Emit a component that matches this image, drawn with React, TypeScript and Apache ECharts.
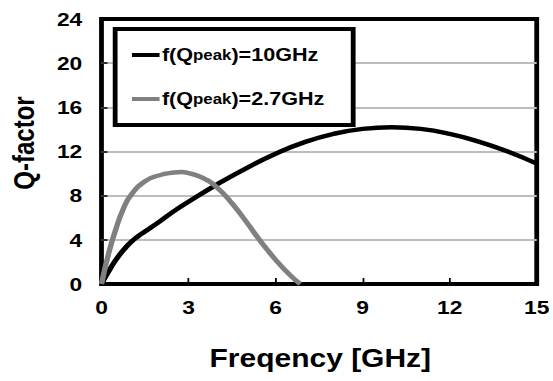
import React, { useEffect, useRef } from "react";
import * as echarts from "echarts";

const xTicks = [0, 3, 6, 9, 12, 15];
const yTicks = [0, 4, 8, 12, 16, 20, 24];

const seriesNames = ["f(Qpeak)=10GHz", "f(Qpeak)=2.7GHz"];

const freqBlack = [0, 0.25, 0.5, 0.75, 1, 1.25, 1.5, 2, 2.5, 3, 4, 5, 6, 7, 8, 9, 10, 11, 12, 13, 14, 15];
const qBlack = [0, 1.15, 2.2, 3.05, 3.75, 4.3, 4.75, 5.65, 6.6, 7.45, 9.05, 10.5, 11.8, 12.85, 13.6, 14.05, 14.2, 14.05, 13.6, 12.9, 12.0, 10.9];

const freqGray = [0, 0.25, 0.5, 0.75, 1, 1.5, 2, 2.5, 2.75, 3, 3.5, 4, 4.5, 5, 5.5, 6, 6.5, 6.85];
const qGray = [0, 2.8, 5.0, 6.8, 8.0, 9.3, 9.85, 10.1, 10.15, 10.05, 9.6, 8.7, 7.3, 5.6, 3.8, 2.2, 0.8, 0];

const FONT = "'Liberation Sans', Arial, sans-serif";
const W = 461;
const H = 381;
const SX = 553 / W;

export default function App() {
  const ref = useRef<HTMLDivElement>(null);
  useEffect(() => {
    if (!ref.current) return;
    const chart = echarts.init(ref.current, undefined, { renderer: "svg" });
    const pairs = (xs: number[], ys: number[]) => xs.map((x, i) => [x, ys[i]]);
    chart.setOption({
      animation: false,
      grid: {
        left: 84.6,
        right: 13,
        top: 19,
        bottom: 97,
        show: true,
        borderColor: "#000",
        borderWidth: 4,
        backgroundColor: "transparent",
      },
      legend: {
        left: 96,
        top: 29,
        orient: "vertical",
        data: seriesNames,
        icon: "rect",
        itemWidth: 23,
        itemHeight: 4,
        itemGap: 26,
        padding: [17, 24, 17, 14],
        borderColor: "#000",
        borderWidth: 4,
        borderRadius: 0,
        backgroundColor: "#fff",
        formatter: (name: string) => name.replace("peak", "{s|peak}"),
        textStyle: {
          fontFamily: FONT,
          fontWeight: "bold",
          fontSize: 18,
          color: "#000",
          padding: [0, 0, 0, -3],
          rich: {
            s: { fontFamily: FONT, fontWeight: "bold", fontSize: 14, color: "#000" },
          },
        },
      },
      xAxis: {
        type: "value",
        min: xTicks[0],
        max: xTicks[xTicks.length - 1],
        interval: 3,
        axisLine: { show: false },
        axisTick: { show: true, inside: true, length: 6, lineStyle: { color: "#000", width: 1.5 } },
        splitLine: { show: false },
        axisLabel: {
          margin: 14,
          fontFamily: FONT,
          fontWeight: "bold",
          fontSize: 19,
          color: "#000",
        },
      },
      yAxis: {
        type: "value",
        min: yTicks[0],
        max: yTicks[yTicks.length - 1],
        interval: 4,
        axisLine: { show: false },
        axisTick: { show: true, inside: true, length: 5, lineStyle: { color: "#000", width: 1.5 } },
        splitLine: {
          show: true,
          showMinLine: false,
          showMaxLine: false,
          lineStyle: { color: "#bdbdbd", width: 2 },
        },
        axisLabel: {
          margin: 16,
          fontFamily: FONT,
          fontWeight: "bold",
          fontSize: 19,
          color: "#000",
        },
      },
      graphic: [
        {
          type: "text",
          x: 20,
          y: 143,
          rotation: Math.PI / 2,
          style: {
            text: "Q-factor",
            fontFamily: FONT,
            fontWeight: "bold",
            fontSize: 24,
            fill: "#000",
            align: "center",
            verticalAlign: "middle",
          },
        },
        {
          type: "text",
          x: 267,
          y: 358,
          style: {
            text: "Freqency [GHz]",
            fontFamily: FONT,
            fontWeight: "bold",
            fontSize: 25,
            fill: "#000",
            align: "center",
            verticalAlign: "middle",
          },
        },
      ],
      series: [
        {
          name: seriesNames[0],
          type: "line",
          data: pairs(freqBlack, qBlack),
          smooth: 0.5,
          showSymbol: false,
          symbol: "none",
          lineStyle: { color: "#000", width: 4.5 },
          itemStyle: { color: "#000" },
          z: 3,
        },
        {
          name: seriesNames[1],
          type: "line",
          data: pairs(freqGray, qGray),
          smooth: 0.5,
          showSymbol: false,
          symbol: "none",
          lineStyle: { color: "#808080", width: 4.5 },
          itemStyle: { color: "#808080" },
          z: 4,
        },
      ],
    });
    return () => chart.dispose();
  }, []);
  return (
    <div
      ref={ref}
      style={{
        position: "fixed",
        left: 0,
        top: 0,
        width: W,
        height: H,
        transform: `scaleX(${SX})`,
        transformOrigin: "0 0",
        background: "#fff",
      }}
    />
  );
}
